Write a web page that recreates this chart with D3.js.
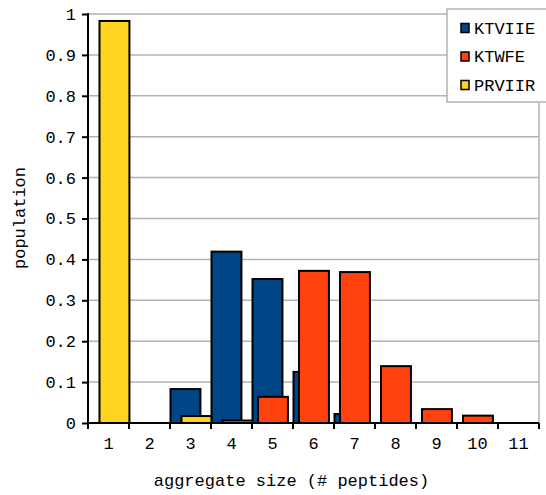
<!DOCTYPE html>
<html><head><meta charset="utf-8">
<script src="https://cdn.jsdelivr.net/npm/d3@7"></script>
<style>body{margin:0;background:#fff}svg{display:block}text{font-family:"Liberation Mono","Courier New",monospace;fill:#000}</style>
</head><body><svg id="c" width="546" height="495"></svg>
<script>
const categories = ["1","2","3","4","5","6","7","8","9","10","11"];
const seriesNames = ["KTVIIE","KTWFE","PRVIIR"];
const colors = ["#004586","#ff420e","#ffd320"];
const KTVIIE = [0,0,0.083,0.419,0.352,0.125,0.022,0,0,0,0];
const KTWFE  = [0,0,0,0,0.064,0.372,0.369,0.139,0.034,0.018,0];
const PRVIIR = [0.983,0,0.017,0.006,0,0,0,0,0,0,0];
const yTicks = [0,0.1,0.2,0.3,0.4,0.5,0.6,0.7,0.8,0.9,1];
const yTickLabels = ["0","0.1","0.2","0.3","0.4","0.5","0.6","0.7","0.8","0.9","1"];
const seriesValues = [KTVIIE, KTWFE, PRVIIR];

const svg = d3.select("#c");
const L=88, R=539, T=14, B=423;
const x = d3.scaleBand().domain(categories).range([L,R]).padding(0);
const y = d3.scaleLinear().domain([0,1]).range([B,T]);
const off = d3.scalePoint().domain(seriesNames).range([0, x.bandwidth()*0.268]);
const bw = x.bandwidth()*0.73;

// gridlines
svg.append("g").selectAll("line").data(yTicks.slice(1)).join("line")
  .attr("x1",L).attr("x2",R).attr("y1",d=>y(d)).attr("y2",d=>y(d))
  .attr("stroke","#b3b3b3").attr("stroke-width",1.5);
// right frame
svg.append("line").attr("x1",R).attr("x2",R).attr("y1",T).attr("y2",B)
  .attr("stroke","#b3b3b3").attr("stroke-width",1.5);

// bars
seriesNames.forEach((s,i)=>{
  svg.append("g").selectAll("rect").data(categories.map((c,j)=>({c,v:seriesValues[i][j]})).filter(d=>d.v>0))
    .join("rect")
    .attr("x",d=>x(d.c)+off(s)+0.5)
    .attr("y",d=>y(d.v))
    .attr("width",bw)
    .attr("height",d=>B-y(d.v))
    .attr("fill",colors[i]).attr("stroke","#000").attr("stroke-width",2);
});

// y axis
const ya = svg.append("g").attr("transform",`translate(${L},0)`)
  .call(d3.axisLeft(y).tickValues(yTicks).tickFormat((d,i)=>yTickLabels[i]).tickSize(6).tickPadding(6));
ya.select(".domain").attr("stroke","#000").attr("stroke-width",2).attr("d",`M0,${T-1}V${B+5}`);
ya.selectAll(".tick line").attr("stroke","#000").attr("stroke-width",2);
ya.selectAll("text").style("font-size","17px").style("font-family","Liberation Mono");

// x axis
const xa = svg.append("g").attr("transform",`translate(0,${B})`)
  .call(d3.axisBottom(x).tickSize(0).tickPadding(14));
xa.select(".domain").attr("stroke","#000").attr("stroke-width",2).attr("d",`M${L},0H${R}`);
xa.selectAll("text").style("font-size","17px").style("font-family","Liberation Mono");
svg.append("g").selectAll("line").data(categories.map(c=>x(c)).concat([R]))
  .join("line").attr("x1",d=>d).attr("x2",d=>d).attr("y1",B).attr("y2",B+6)
  .attr("stroke","#000").attr("stroke-width",2);

// titles
svg.append("text").attr("x",(L+R)/2-22).attr("y",486).attr("text-anchor","middle")
  .style("font-size","17px").text("aggregate size (# peptides)");
svg.append("text").attr("transform",`translate(25,${218}) rotate(-90)`).attr("text-anchor","middle")
  .style("font-size","17px").text("population");

// legend
const lg = svg.append("g");
lg.append("rect").attr("x",447).attr("y",9).attr("width",110).attr("height",93)
  .attr("fill","#fff").attr("stroke","#b3b3b3").attr("stroke-width",1.5);
seriesNames.forEach((s,i)=>{
  const yy = 28 + i*28.5;
  lg.append("rect").attr("x",461).attr("y",yy-4.5).attr("width",8).attr("height",9)
    .attr("fill",colors[i]).attr("stroke","#000").attr("stroke-width",1.5);
  lg.append("text").attr("x",474).attr("y",yy+5.5).style("font-size","17px").text(s);
});
</script></body></html>
